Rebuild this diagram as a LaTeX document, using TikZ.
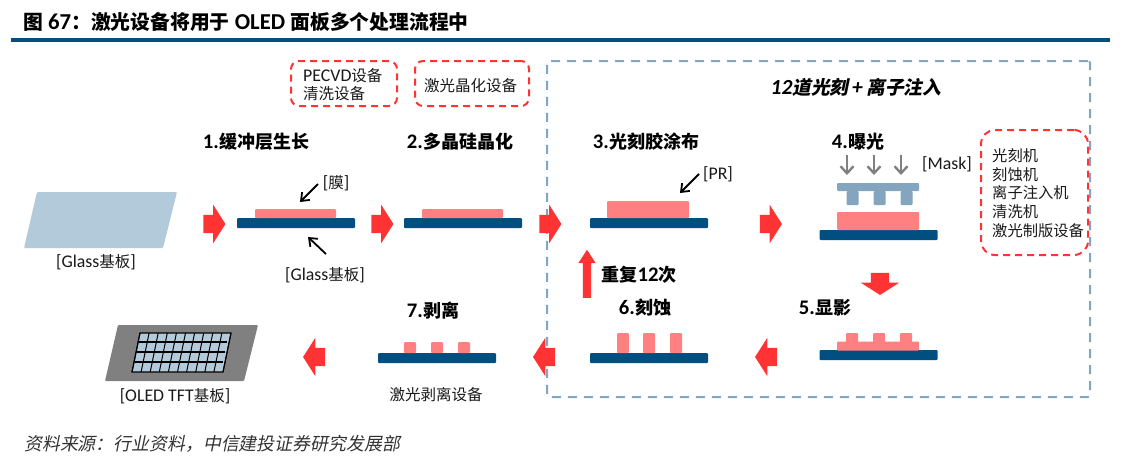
\documentclass[tikz,border=0pt]{standalone}
\usepackage{fontspec}
\setmainfont[Scale=1.15]{Carlito}
\newfontfamily\cjk{Noto Sans CJK SC}
\newfontfamily\cjkslant[FakeSlant=0.2]{Noto Sans CJK SC}
\newcommand{\zh}[1]{{\cjk #1}}
\newcommand{\zhs}[1]{{\cjkslant #1}}
\usetikzlibrary{arrows.meta,shapes.arrows}
\definecolor{nicered}{RGB}{255, 51, 51}
\definecolor{nicepink}{RGB}{255, 128, 128}
\definecolor{navy}{RGB}{0, 79, 128}
\definecolor{maskblue}{RGB}{132, 165, 191}
\definecolor{glassblue}{RGB}{179, 202, 218}
\definecolor{lgray}{RGB}{128, 128, 128}
\tikzset{
	heading/.style = {inner sep = 0pt, font = \fontsize{18}{20}\selectfont\bfseries},
	label/.style = {inner sep = 0pt, font = \fontsize{15.5}{18}\selectfont, text = black!90},
	layer/.style = {rectangle, inner sep = 0pt, rounded corners = 1pt},
	baselayer/.style = {layer, fill = navy, minimum width = 118pt, minimum height = 10pt},
	pink/.style = {layer, fill = nicepink},
	maskpart/.style = {layer, fill = maskblue},
	redbox/.style = {rectangle, draw = nicered, line width = 2pt, dash pattern = on 7pt off 5pt, rounded corners = 8pt, inner sep = 0pt},
	blockarrow/.style = {single arrow, fill = nicered, inner sep = 0pt, text height = 9pt, text depth = 9pt, minimum width = 38pt, minimum height = 22pt, single arrow head extend = 10pt, single arrow tip angle = 115},
	callout/.style = {-{Straight Barb[length = 7pt, width = 11pt]}, line width = 1.8pt, black},
	lightray/.style = {-{Straight Barb[length = 7pt, width = 13pt]}, line width = 2.4pt, lgray}
}
\begin{document}
\begin{tikzpicture}[x = 1pt, y = -1pt]
	\useasboundingbox (0,0) rectangle (1125,467);
	\node (title) at (23,22) [anchor = west, inner sep = 0pt, font = \fontsize{19.8}{22}\selectfont\bfseries] {\zh{图} 67\zh{：激光设备将用于} OLED \zh{面板多个处理流程中}};
	\coordinate (ruleL) at (11,40);
	\coordinate (ruleR) at (1110,40);
	\draw [navy, line width = 4pt] (ruleL) -- (ruleR);

	\node (pecvd) at (344,83.5) [redbox, minimum width = 106pt, minimum height = 45pt] {};
	\node (pecvdT) at (303,85) [label, anchor = west, align = left] {PECVD\zh{设备}\\\zh{清洗设备}};
	\node (laser) at (472,83.5) [redbox, minimum width = 114pt, minimum height = 45pt] {};
	\node (laserT) at (424,86) [label, anchor = west] {\zh{激光晶化设备}};
	\node (loop) at (818.5,229) [rectangle, draw = maskblue, line width = 2pt, dash pattern = on 9pt off 7pt, rounded corners = 2pt, minimum width = 543pt, minimum height = 336pt, inner sep = 0pt] {};
	\node (loopT) at (856,87) [inner sep = 0pt, font = \fontsize{18.7}{22}\selectfont\bfseries\itshape] {12\zhs{道光刻}\,+\,\zhs{离子注入}};
	\node (tools) at (1034.5,192.5) [redbox, rounded corners = 14pt, minimum width = 107pt, minimum height = 125pt] {};
	\node (toolsT) at (992,193) [label, anchor = west, align = left, font = \fontsize{15.3}{18.6}\selectfont] {\zh{光刻机}\\\zh{刻蚀机}\\\zh{离子注入机}\\\zh{清洗机}\\\zh{激光制版设备}};

	\node (h1) at (256,142) [heading] {1.\zh{缓冲层生长}};
	\node (h2) at (460,142) [heading] {2.\zh{多晶硅晶化}};
	\node (h3) at (646,142) [heading] {3.\zh{光刻胶涂布}};
	\node (h4) at (858,142) [heading] {4.\zh{曝光}};
	\node (h5) at (825,308) [heading] {5.\zh{显影}};
	\node (h6) at (645,308) [heading] {6.\zh{刻蚀}};
	\node (h7) at (433,311) [heading] {7.\zh{剥离}};
	\node (repeat) at (639,275) [heading] {\zh{重复}12\zh{次}};

	\draw [fill = glassblue, draw = none, rounded corners = 1pt] (37,192) -- (177,192) -- (163,248) -- (24,248) -- cycle;
	\node (glassT) at (96,262) [label] {[Glass\zh{基板}]};

	\node (base1) at (296,223) [baselayer] {};
	\node (film1) at (295.5,213.5) [pink, minimum width = 81pt, minimum height = 9pt] {};
	\node (filmT) at (336,183) [label] {[\zh{膜}]};
	\coordinate (filmS) at (318,184);
	\coordinate (filmE) at (300,202);
	\draw [callout] (filmS) -- (filmE);
	\node (glassT2) at (325,275) [label] {[Glass\zh{基板}]};
	\coordinate (glassS) at (326,254);
	\coordinate (glassE) at (308,237);
	\draw [callout] (glassS) -- (glassE);

	\node (base2) at (463,223) [baselayer] {};
	\node (film2) at (462.5,213.5) [pink, minimum width = 81pt, minimum height = 9pt] {};

	\node (base3) at (649,223) [baselayer] {};
	\node (film3) at (648,209.5) [pink, minimum width = 82pt, minimum height = 17pt] {};
	\node (prT) at (718,174) [label] {[PR]};
	\coordinate (prS) at (699,174);
	\coordinate (prE) at (680,193);
	\draw [callout] (prS) -- (prE);

	\node (base4) at (878.5,235) [baselayer] {};
	\node (film4) at (878,221) [pink, minimum width = 82pt, minimum height = 18pt] {};
	\node (maskbar) at (878,187) [maskpart, minimum width = 82pt, minimum height = 8pt] {};
	\foreach \x [count = \i] in {852.5,879.5,906.5} {
		\node (tooth\i) at (\x,198) [maskpart, minimum width = 12pt, minimum height = 14pt] {};
	}
	\foreach \x [count = \i] in {847,874,901} {
		\coordinate (rayS\i) at (\x,155);
		\coordinate (rayE\i) at (\x,175);
		\draw [lightray] (rayS\i) -- (rayE\i);
	}
	\node (maskT) at (947,164) [label] {[Mask]};

	\node (base5) at (878.5,355) [baselayer] {};
	\node (film5) at (878,346) [pink, minimum width = 82pt, minimum height = 9pt] {};
	\foreach \x [count = \i] in {852,879,906} {
		\node (bump\i) at (\x,338) [pink, minimum width = 12pt, minimum height = 10pt] {};
	}

	\node (base6) at (649,358) [baselayer] {};
	\foreach \x [count = \i] in {623,649,676} {
		\node (bar\i) at (\x,343) [pink, minimum width = 12pt, minimum height = 20pt] {};
	}

	\node (base7) at (437,358) [baselayer] {};
	\foreach \x [count = \i] in {410,437,464} {
		\node (pad\i) at (\x,347.5) [pink, minimum width = 12pt, minimum height = 11pt] {};
	}
	\node (liftT) at (436,395) [label] {\zh{激光剥离设备}};

	\draw [fill = lgray, draw = none, rounded corners = 1pt] (118,325) -- (258,325) -- (244,381) -- (105,381) -- cycle;
	\draw [fill = glassblue, draw = none] (140,333) -- (231,333) -- (223,372) -- (132,372) -- cycle;
	\foreach \i in {0,...,10} {
		\draw [black, line width = 1pt] ({140 + \i*9.1},333) -- ({132 + \i*9.1},372);
	}
	\foreach \y in {342,352,362} {
		\draw [black, line width = 1.2pt] ({133 + (372 - \y)*0.2},\y) -- ({227 - (\y - 342)*0.2},\y);
	}
	\draw [black, line width = 1.1pt] (140,333) -- (231,333) -- (223,372) -- (132,372) -- cycle;
	\node (oledT) at (175,396) [label] {[OLED TFT\zh{基板}]};

	\node (ar1) at (211.5,224) [blockarrow] {};
	\node (ar2) at (379.5,224) [blockarrow] {};
	\node (ar3) at (547.5,224) [blockarrow] {};
	\node (ar4) at (768,224) [blockarrow] {};
	\node (ar5) at (880,281) [blockarrow, rotate = -90] {};
	\node (ar6) at (769,357) [blockarrow, rotate = 180] {};
	\node (ar7) at (547,357) [blockarrow, rotate = 180] {};
	\node (ar8) at (317,357) [blockarrow, rotate = 180] {};
	\node (arUp) at (587,277) [blockarrow, rotate = 90, text height = 4pt, text depth = 4pt, minimum width = 17pt, minimum height = 48pt, single arrow head extend = 4.5pt, single arrow tip angle = 66] {};

	\node (source) at (24,444) [anchor = west, inner sep = 0pt, text = black!80, font = \fontsize{17.9}{20}\selectfont] {\zhs{资料来源：行业资料，中信建投证券研究发展部}};
\end{tikzpicture}
\end{document}
